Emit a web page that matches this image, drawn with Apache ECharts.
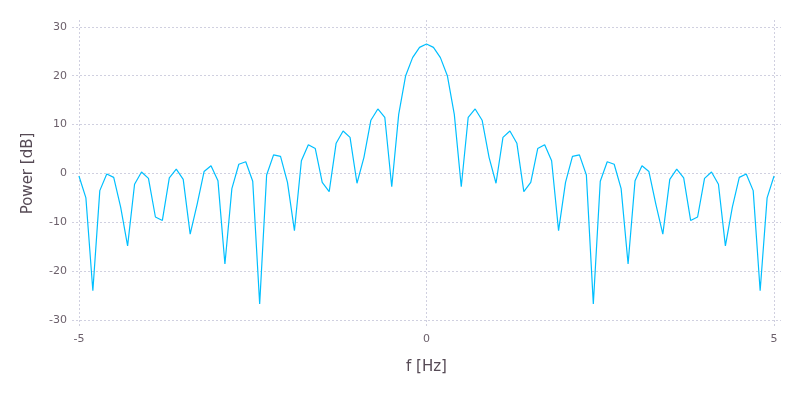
<!DOCTYPE html>
<html>
<head>
<meta charset="utf-8">
<script src="https://cdn.jsdelivr.net/npm/echarts@6/dist/echarts.min.js"></script>
<style>html,body{margin:0;padding:0;background:#fff;}#chart{width:800px;height:400px;}</style>
</head>
<body>
<div id="chart"></div>
<script>
var freqHz = [
  -5.0,-4.9,-4.8,-4.7,-4.6,-4.5,-4.4,-4.3,-4.2,-4.1,
  -4.0,-3.9,-3.8,-3.7,-3.6,-3.5,-3.4,-3.3,-3.2,-3.1,
  -3.0,-2.9,-2.8,-2.7,-2.6,-2.5,-2.4,-2.3,-2.2,-2.1,
  -2.0,-1.9,-1.8,-1.7,-1.6,-1.5,-1.4,-1.3,-1.2,-1.1,
  -1.0,-0.9,-0.8,-0.7,-0.6,-0.5,-0.4,-0.3,-0.2,-0.1,
  0.0,
  0.1,0.2,0.3,0.4,0.5,0.6,0.7,0.8,0.9,1.0,
  1.1,1.2,1.3,1.4,1.5,1.6,1.7,1.8,1.9,2.0,
  2.1,2.2,2.3,2.4,2.5,2.6,2.7,2.8,2.9,3.0,
  3.1,3.2,3.3,3.4,3.5,3.6,3.7,3.8,3.9,4.0,
  4.1,4.2,4.3,4.4,4.5,4.6,4.7,4.8,4.9,5.0
];
var powerDb = [
  -0.5,-5.0,-24.0,-3.5,-0.1,-0.8,-6.9,-14.8,-2.2,0.3,
  -1.0,-8.9,-9.6,-0.9,0.9,-1.2,-12.4,-6.3,0.4,1.6,
  -1.5,-18.5,-3.1,1.9,2.4,-1.6,-26.7,-0.3,3.8,3.5,
  -1.8,-11.7,2.6,5.9,5.1,-1.8,-3.7,6.2,8.7,7.4,
  -2.0,3.3,10.9,13.2,11.5,-2.7,12.1,20.0,23.7,25.8,
  26.5,
  25.8,23.7,20.0,12.1,-2.7,11.5,13.2,10.9,3.3,-2.0,
  7.4,8.7,6.2,-3.7,-1.8,5.1,5.9,2.6,-11.7,-1.8,
  3.5,3.8,-0.3,-26.7,-1.6,2.4,1.9,-3.1,-18.5,-1.5,
  1.6,0.4,-6.3,-12.4,-1.2,0.9,-0.9,-9.6,-8.9,-1.0,
  0.3,-2.2,-14.8,-6.9,-0.8,-0.1,-3.5,-24.0,-5.0,-0.5
];
var xTicks = [-5, 0, 5];
var yTicks = [-30, -20, -10, 0, 10, 20, 30];

var pairs = freqHz.map(function (f, i) { return [f, powerDb[i]]; });

var chart = echarts.init(document.getElementById('chart'), null, {renderer: 'canvas'});
var gridLine = {show: true, lineStyle: {color: '#D0D0E0', width: 1, type: [2, 2]}};
chart.setOption({
  animation: false,
  backgroundColor: '#ffffff',
  grid: {left: 72, right: 19, top: 20, bottom: 73, containLabel: false},
  xAxis: {
    type: 'value', min: -5.1, max: 5.1,
    name: 'f [Hz]', nameLocation: 'middle', nameGap: 33,
    nameTextStyle: {color: '#564A55', fontSize: 15, fontFamily: 'DejaVu Sans'},
    axisLine: {show: false}, axisTick: {show: false, customValues: xTicks},
    axisLabel: {customValues: xTicks, color: '#6C606B', fontSize: 11, fontFamily: 'DejaVu Sans', margin: 7},
    splitLine: gridLine
  },
  yAxis: {
    type: 'value', min: -31.4, max: 31.4,
    name: 'Power [dB]', nameLocation: 'middle', nameGap: 36, nameRotate: 90,
    nameTextStyle: {color: '#564A55', fontSize: 15, fontFamily: 'DejaVu Sans'},
    axisLine: {show: false}, axisTick: {show: false, customValues: yTicks},
    axisLabel: {customValues: yTicks, color: '#6C606B', fontSize: 11, fontFamily: 'DejaVu Sans', margin: 5},
    splitLine: gridLine
  },
  series: [{
    type: 'line', data: pairs, showSymbol: false, symbol: 'none',
    lineStyle: {color: '#00BFFF', width: 1.2}, itemStyle: {color: '#00BFFF'}
  }]
});
</script>
</body>
</html>
